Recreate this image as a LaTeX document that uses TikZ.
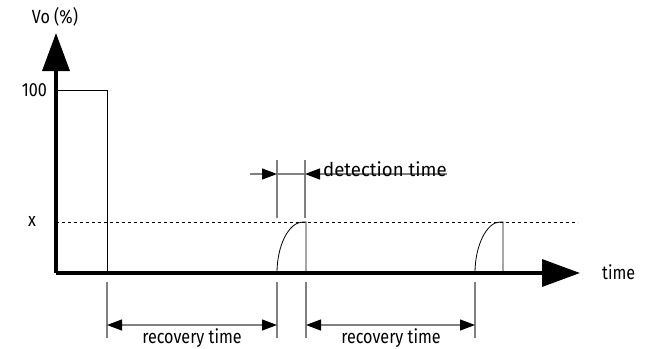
\documentclass[tikz,border=0pt]{standalone}
\usepackage{fontspec}
\setmainfont{Fira Sans}[FakeStretch=0.85]
\usetikzlibrary{arrows.meta}
\begin{document}
\begin{tikzpicture}[x=1pt,y=-1pt]
\tikzstyle{every node}=[font=\fontsize{19}{23}\selectfont,inner sep=0pt];
\tikzstyle{axis}=[line width=3.5pt,-{Triangle[length=38pt,width=27pt]}];
\tikzstyle{pulse}=[line width=0.8pt];
\tikzstyle{guide}=[draw=gray,line width=1.2pt];
\tikzstyle{dim}=[guide,{Triangle[length=15pt,width=11pt,black]}-{Triangle[length=15pt,width=11pt,black]}];
\useasboundingbox (0,0) rectangle (653,348);
% axes
\coordinate (O) at (56,273);
\coordinate (ytop) at (56,33);
\coordinate (xend) at (580,273);
\draw[axis] (O) -- (ytop);
\draw[axis] (O) -- (xend);
\node (vo) at (55,17) {Vo (\%)};
\node[anchor=east] (full) at (47,90) {100};
\node (xlev) at (32,221) {x};
\node[anchor=west] (time) at (602,272) {time};
% pulses
\coordinate (p0) at (56,90);
\coordinate (p0r) at (107,90);
\coordinate (p0b) at (107,273);
\draw[pulse] (p0) -- (p0r) -- (p0b);
\coordinate (d0) at (56,222);
\coordinate (d1) at (578,222);
\draw[pulse,dashed] (d0) -- (d1);
\coordinate (a0) at (277,273);
\coordinate (a1) at (303,222);
\coordinate (a2) at (306,222);
\coordinate (a3) at (306,273);
\draw[pulse] (a0) .. controls (277,245) and (289,222) .. (a1) -- (a2) -- (a3);
\coordinate (b0) at (475,273);
\coordinate (b1) at (500,222);
\coordinate (b2) at (503,222);
\coordinate (b3) at (503,273);
\draw[pulse] (b0) .. controls (475,245) and (487,222) .. (b1) -- (b2) -- (b3);
% detection time
\draw[guide] (277,160) coordinate (g1) -- (277,218);
\draw[guide] (305,160) coordinate (g2) -- (305,218);
\coordinate (e0) at (250,174);
\coordinate (e1) at (277,174);
\coordinate (e2) at (305,174);
\coordinate (e3) at (447,174);
\draw[guide,-{Triangle[length=15pt,width=11pt,black]}] (e0) -- (e1);
\draw[guide] (e1) -- (e2);
\draw[guide,{Triangle[length=15pt,width=11pt,black]}-] (e2) -- (e3);
\node[anchor=base west] (det) at (323,176) {\addfontfeatures{FakeStretch=0.98}detection time};
% recovery times
\draw[guide] (107,282) -- (107,338);
\draw[guide] (277,282) -- (277,338);
\draw[guide] (306,282) -- (306,338);
\draw[guide] (475,282) -- (475,338);
\coordinate (r0) at (107,325);
\coordinate (r1) at (277,325);
\coordinate (r2) at (306,325);
\coordinate (r3) at (475,325);
\draw[dim] (r0) -- (r1);
\draw[dim] (r2) -- (r3);
\node[anchor=base] (rec1) at (192,343) {recovery time};
\node[anchor=base] (rec2) at (391,343) {recovery time};
\end{tikzpicture}
\end{document}
